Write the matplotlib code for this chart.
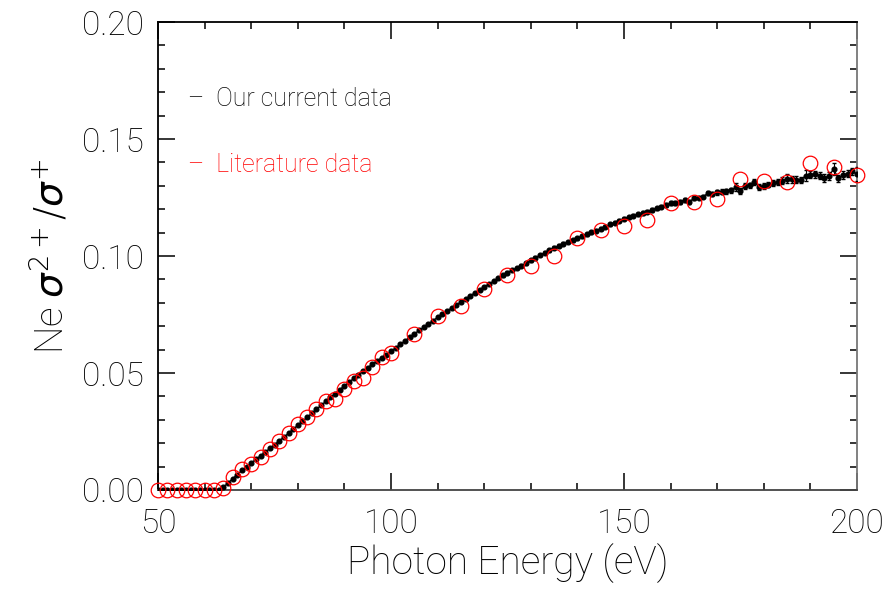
import numpy as np
import matplotlib
matplotlib.use('Agg')
import matplotlib.pyplot as plt
from matplotlib.ticker import MultipleLocator

plt.rcParams['font.family'] = ['Roboto', 'DejaVu Sans']
plt.rcParams['font.weight'] = 'light'
plt.rcParams['axes.labelweight'] = 'light'
plt.rcParams['mathtext.fontset'] = 'dejavusans'

# measured ratio, 1 eV steps from 50 to 200 eV
energy = list(range(50, 201))
ratio = [
    0.0, 0.0, 0.0, 0.0, 0.0, 0.0, 0.0, 0.0, 0.0, 0.0,                                   # 50-59
    0.0, 0.0, 0.0, 0.0, 0.0012, 0.0030, 0.0048, 0.0066, 0.0084, 0.0100,                 # 60-69
    0.0116, 0.0131, 0.0147, 0.0162, 0.0178, 0.0194, 0.0210, 0.0226, 0.0243, 0.0260,     # 70-79
    0.0277, 0.0294, 0.0311, 0.0328, 0.0345, 0.0362, 0.0379, 0.0396, 0.0412, 0.0429,     # 80-89
    0.0445, 0.0461, 0.0477, 0.0493, 0.0508, 0.0523, 0.0538, 0.0552, 0.0566, 0.0579,     # 90-99
    0.0592, 0.0608, 0.0623, 0.0638, 0.0653, 0.0667, 0.0682, 0.0696, 0.0710, 0.0724,     # 100-109
    0.0738, 0.0752, 0.0765, 0.0778, 0.0791, 0.0804, 0.0817, 0.0830, 0.0843, 0.0856,     # 110-119
    0.0868, 0.0880, 0.0893, 0.0905, 0.0917, 0.0929, 0.0939, 0.0949, 0.0959, 0.0968,     # 120-129
    0.0982, 0.0993, 0.1004, 0.1014, 0.1025, 0.1035, 0.1044, 0.1052, 0.1060, 0.1068,     # 130-139
    0.1076, 0.1085, 0.1093, 0.1101, 0.1109, 0.1117, 0.1126, 0.1135, 0.1143, 0.1151,     # 140-149
    0.1160, 0.1166, 0.1172, 0.1178, 0.1184, 0.1190, 0.1197, 0.1204, 0.1211, 0.1218,     # 150-159
    0.1225, 0.1228, 0.1232, 0.1240, 0.1232, 0.1246, 0.1250, 0.1254, 0.1268, 0.1266,     # 160-169
    0.1272, 0.1275, 0.1276, 0.1280, 0.1294, 0.1278, 0.1300, 0.1302, 0.1316, 0.1296,     # 170-179
    0.1300, 0.1305, 0.1312, 0.1318, 0.1322, 0.1330, 0.1328, 0.1326, 0.1324, 0.1344,     # 180-189
    0.1348, 0.1350, 0.1344, 0.1334, 0.1342, 0.1372, 0.1332, 0.1346, 0.1352, 0.1362,     # 190-199
    0.1350,                                                                             # 200
]
ratio_err = [
    0.0002, 0.0002, 0.0002, 0.0002, 0.0002, 0.0002, 0.0002, 0.0002, 0.0002, 0.0002,
    0.0002, 0.0002, 0.0002, 0.0002, 0.0002, 0.0002, 0.0002, 0.0002, 0.0002, 0.0002,
    0.0003, 0.0003, 0.0003, 0.0003, 0.0003, 0.0003, 0.0003, 0.0003, 0.0003, 0.0003,
    0.0003, 0.0003, 0.0003, 0.0003, 0.0003, 0.0003, 0.0003, 0.0003, 0.0003, 0.0003,
    0.0004, 0.0004, 0.0004, 0.0004, 0.0004, 0.0004, 0.0004, 0.0004, 0.0004, 0.0004,
    0.0004, 0.0004, 0.0004, 0.0004, 0.0004, 0.0004, 0.0004, 0.0004, 0.0004, 0.0004,
    0.0005, 0.0005, 0.0005, 0.0005, 0.0005, 0.0005, 0.0005, 0.0005, 0.0005, 0.0005,
    0.0005, 0.0005, 0.0005, 0.0005, 0.0005, 0.0005, 0.0005, 0.0005, 0.0005, 0.0005,
    0.0006, 0.0006, 0.0006, 0.0006, 0.0006, 0.0006, 0.0006, 0.0006, 0.0006, 0.0006,
    0.0006, 0.0006, 0.0006, 0.0006, 0.0006, 0.0006, 0.0006, 0.0006, 0.0006, 0.0006,
    0.0007, 0.0007, 0.0007, 0.0007, 0.0007, 0.0007, 0.0007, 0.0007, 0.0007, 0.0007,
    0.0008, 0.0008, 0.0008, 0.0008, 0.0008, 0.0008, 0.0008, 0.0008, 0.0009, 0.0009,
    0.0010, 0.0010, 0.0010, 0.0012, 0.0018, 0.0012, 0.0012, 0.0012, 0.0012, 0.0012,
    0.0012, 0.0012, 0.0012, 0.0013, 0.0014, 0.0020, 0.0014, 0.0014, 0.0014, 0.0022,
    0.0015, 0.0015, 0.0015, 0.0016, 0.0016, 0.0024, 0.0016, 0.0016, 0.0016, 0.0016,
    0.0030,
]

# literature values
lit_energy = [50, 52, 54, 56, 58, 60, 62, 64, 66, 68, 70, 72, 74, 76, 78, 80, 82, 84,
              86, 88, 90, 92, 94, 96, 98, 100, 105, 110, 115, 120, 125, 130, 135, 140,
              145, 150, 155, 160, 165, 170, 175, 180, 185, 190, 195, 200]
lit_ratio = [0.0, 0.0, 0.0, 0.0, 0.0, 0.0, 0.0, 0.0008, 0.0055, 0.0090, 0.0113, 0.0143,
             0.0175, 0.0208, 0.0243, 0.0280, 0.0314, 0.0345, 0.0380, 0.0390, 0.0433,
             0.0465, 0.0480, 0.0526, 0.0568, 0.0585, 0.0668, 0.0743, 0.0786, 0.0857,
             0.0920, 0.0957, 0.1001, 0.1077, 0.1110, 0.1128, 0.1156, 0.1226, 0.1232,
             0.1242, 0.1328, 0.1320, 0.1316, 0.1397, 0.1380, 0.1345]

fig = plt.figure(figsize=(8.88, 5.92), dpi=100)
ax = fig.add_axes([0.178, 0.1723, 0.787, 0.7905])

ax.errorbar(energy, ratio, yerr=ratio_err, fmt='o', color='black', ms=3.4,
            lw=0.9, elinewidth=0.8, capsize=1.5, zorder=3)
ax.plot(energy, ratio, '-', color='black', lw=0.9, zorder=3)
ax.plot(lit_energy, lit_ratio, 'o', mfc='none', mec='red', mew=0.9, ms=10.5,
        clip_on=False, zorder=4)

ax.set_xlim(50, 200)
ax.set_ylim(0, 0.2)
ax.xaxis.set_major_locator(MultipleLocator(50))
ax.xaxis.set_minor_locator(MultipleLocator(10))
ax.yaxis.set_major_locator(MultipleLocator(0.05))
ax.yaxis.set_minor_locator(MultipleLocator(0.01))
ax.yaxis.set_major_formatter(plt.FormatStrFormatter('%.2f'))

ax.tick_params(which='both', direction='in', top=True, right=True, labelsize=24,
               width=1.1)
ax.tick_params(axis='x', pad=13)
ax.tick_params(axis='y', pad=10)
ax.tick_params(which='major', length=12)
ax.tick_params(which='minor', length=5)
for side, col in (('left', 'black'), ('top', 'black'), ('bottom', '#444444'), ('right', '#777777')):
    ax.spines[side].set_color(col)
    ax.spines[side].set_linewidth(1.3)

ax.set_xlabel('Photon Energy (eV)', fontsize=28, labelpad=2)
ax.set_ylabel(r'Ne $\sigma^{2+}/\sigma^{+}$', fontsize=28, labelpad=8)

ax.text(56.5, 0.167, '\u2013  Our current data', color='black', fontsize=18, va='center')
ax.text(56.5, 0.139, '\u2013  Literature data', color='red', fontsize=18, va='center')

fig.savefig('out.png', dpi=100)
